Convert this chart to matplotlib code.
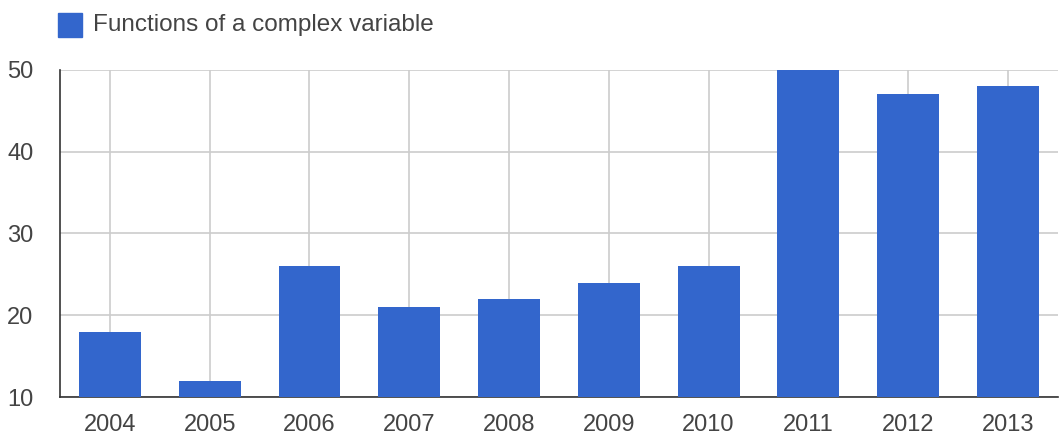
import matplotlib
matplotlib.use('Agg')
import matplotlib.pyplot as plt
from matplotlib.patches import Rectangle

plt.rcParams['font.family'] = ['Liberation Sans', 'DejaVu Sans']

years = ['2004', '2005', '2006', '2007', '2008', '2009', '2010', '2011', '2012', '2013']
counts = [18, 12, 26, 21, 22, 24, 26, 50, 47, 48]
series_name = 'Functions of a complex variable'
y_ticks = [10, 20, 30, 40, 50]

bar_color = '#3366cc'
text_color = '#444444'

fig = plt.figure(figsize=(10.6, 4.37), dpi=100)
ax = fig.add_axes([0.0566, 0.0915, 0.9414, 0.7485])

x = range(len(years))
ax.bar(x, [c - 10 for c in counts], bottom=10, width=0.62, color=bar_color, zorder=3)

ax.set_xlim(-0.5, len(years) - 0.5)
ax.set_ylim(10, 50)
ax.set_xticks(list(x))
ax.set_xticklabels(years)
ax.set_yticks(y_ticks)

# gridlines both ways, light gray
ax.grid(True, color='#cccccc', linewidth=1.2, zorder=0)
ax.set_axisbelow(True)

for s in ['top', 'right']:
    ax.spines[s].set_visible(False)
ax.spines['left'].set_color('#333333')
ax.spines['bottom'].set_color('#333333')
ax.spines['left'].set_linewidth(1.2)
ax.spines['bottom'].set_linewidth(1.2)

ax.tick_params(axis='both', length=0, labelsize=17, colors=text_color)
ax.tick_params(axis='x', pad=12)
ax.tick_params(axis='y', pad=19)

# legend box on top
fig.add_artist(Rectangle((58 / 1060, 1 - 37 / 437), 24 / 1060, 24 / 437,
                         transform=fig.transFigure, color=bar_color))
fig.text(93 / 1060, 1 - 25 / 437, series_name, fontsize=17.5, color=text_color,
         va='center', ha='left')

fig.savefig('out.png', dpi=100)
